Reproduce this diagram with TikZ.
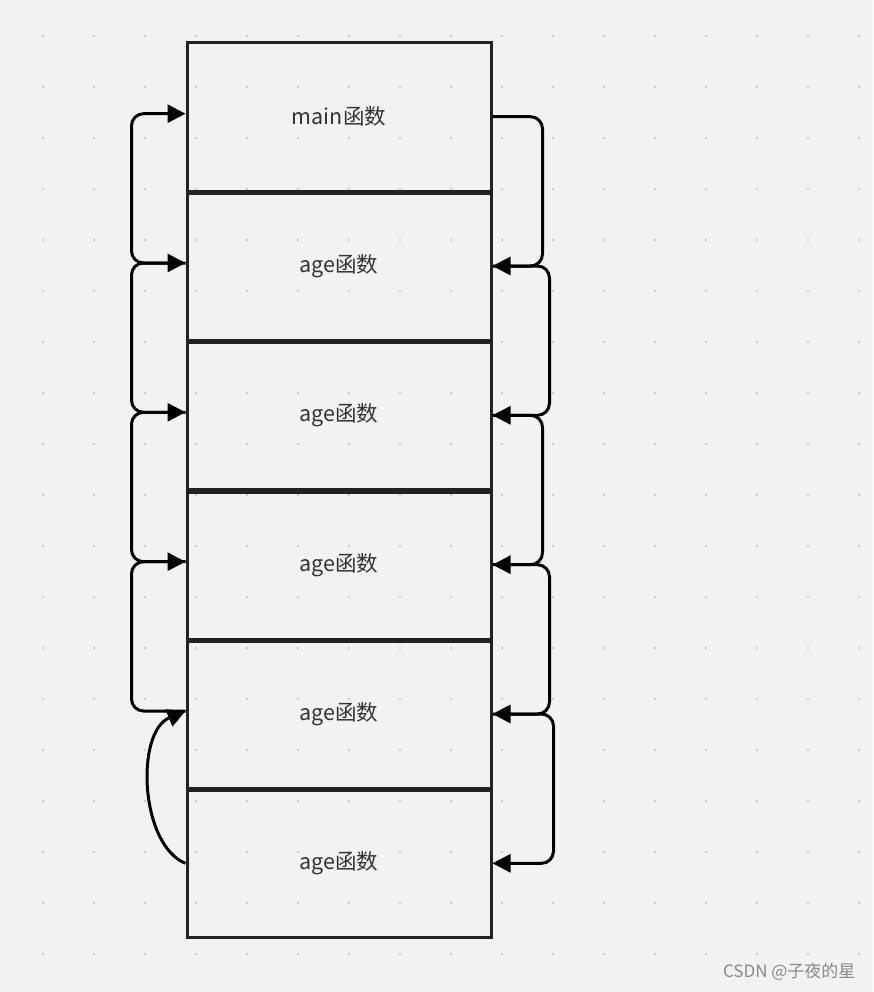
\documentclass[tikz,border=0pt]{standalone}
\usepackage{fontspec}
\setmainfont{Noto Sans CJK SC}
\usetikzlibrary{arrows.meta}
\definecolor{bgc}{HTML}{F2F2F4}
\definecolor{dotc}{HTML}{BDBDC0}
\definecolor{linec}{HTML}{222222}
\definecolor{txtc}{HTML}{333333}
\definecolor{wmc}{HTML}{8A8A8A}
\tikzset{
  frame/.style={draw=linec, line width=3pt, minimum width=304pt, minimum height=149.3pt, inner sep=0pt, text=txtc, font=\fontsize{21.5}{25}\selectfont},
  divider/.style={draw=linec, line width=4.5pt},
  conn/.style={draw=black, line width=3pt, rounded corners=12pt, -{Triangle[length=18pt,width=18pt]}},
  curveconn/.style={draw=black, line width=3pt, -{Triangle[length=18pt,width=18pt]}},
}
\begin{document}
\begin{tikzpicture}[x=1pt,y=-1pt]
\fill[bgc] (0,0) rectangle (873,992);
\useasboundingbox (0,0) rectangle (873,992);
\foreach \i in {0,...,16}{
  \foreach \j in {0,...,18}{
    \fill[dotc] ({43+51*\i},{36+51*\j}) circle (1.2pt);
  }
}
\node[frame] (b0) at (339,116.7) {main函数};
\node[frame] (b1) at (339,266.0) {age函数};
\node[frame] (b2) at (339,415.3) {age函数};
\node[frame] (b3) at (339,564.7) {age函数};
\node[frame] (b4) at (339,714.0) {age函数};
\node[frame] (b5) at (339,863.3) {age函数};
\foreach \k in {0,...,4}{
  \draw[divider] (b\k.south west) -- (b\k.south east);
}
% left returns (slightly above centre)
\foreach \k in {0,...,5}{
  \coordinate (L\k) at ([yshift=3pt]b\k.west);
}
\draw[conn] (L1) -- ++(-54,0) |- (L0);
\draw[conn] (L2) -- ++(-54,0) |- (L1);
\draw[conn] (L3) -- ++(-54,0) |- (L2);
\draw[conn] (L4) -- ++(-54,0) |- (L3);
\draw[curveconn] (b5.west) .. controls (140,845) and (135,732) .. (L4);
% right calls
\draw[conn] (b0.east) -- ++(50,0) |- (b1.east);
\draw[conn] (b1.east) -- ++(57,0) |- (b2.east);
\draw[conn] (b2.east) -- ++(50,0) |- (b3.east);
\draw[conn] (b3.east) -- ++(57,0) |- (b4.east);
\draw[conn] (b4.east) -- ++(61,0) |- (b5.east);
\node[text=wmc, font=\fontsize{17}{20}\selectfont, anchor=east] (wm) at (859,972) {CSDN @子夜的星};
\end{tikzpicture}
\end{document}
